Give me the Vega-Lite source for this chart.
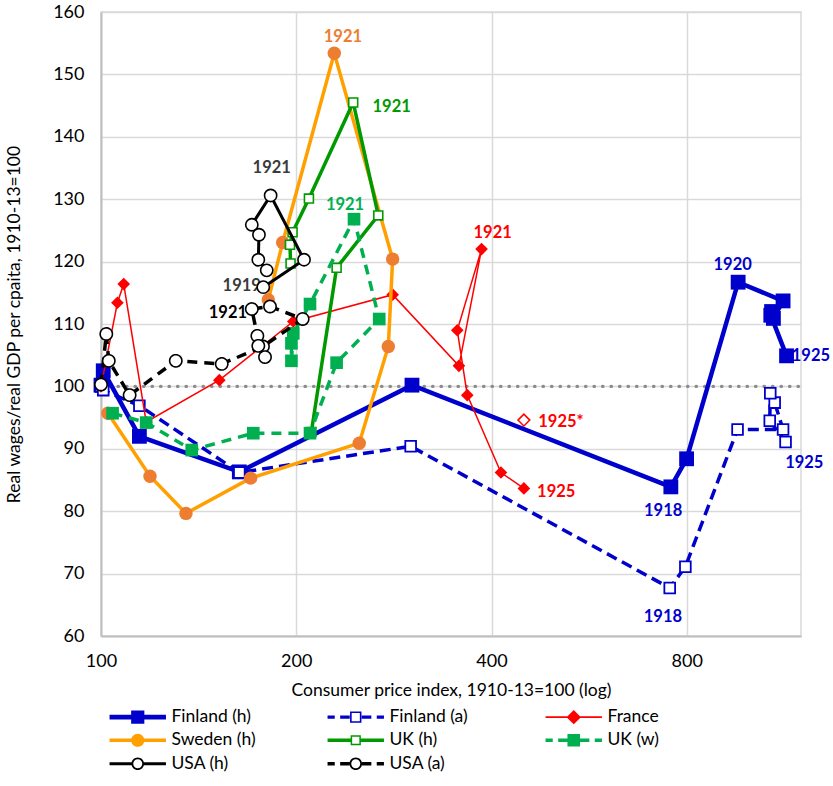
{
 "$schema": "https://vega.github.io/schema/vega-lite/v6.json",
 "width": 700, "height": 624,
 "autosize": {"type": "none"},
 "padding": {"left": 101, "top": 12, "right": 32, "bottom": 150},
 "background": "white",
 "config": {"view": {"stroke": "#D9D9D9", "strokeWidth": 1.5}, "font": "Lato"},
 "datasets": {
  "main": [
   {"series":"Finland (h)","year":1913,"cpi":100,"wage":100.2},
   {"series":"Finland (h)","year":1914,"cpi":100.8,"wage":102.5},
   {"series":"Finland (h)","year":1915,"cpi":114.6,"wage":92.0},
   {"series":"Finland (h)","year":1916,"cpi":163.4,"wage":86.3},
   {"series":"Finland (h)","year":1917,"cpi":301.6,"wage":100.2},
   {"series":"Finland (h)","year":1918,"cpi":756,"wage":83.9},
   {"series":"Finland (h)","year":1919,"cpi":799.5,"wage":88.4},
   {"series":"Finland (h)","year":1920,"cpi":960,"wage":116.7},
   {"series":"Finland (h)","year":1921,"cpi":1126,"wage":113.7},
   {"series":"Finland (h)","year":1922,"cpi":1088,"wage":110.9},
   {"series":"Finland (h)","year":1923,"cpi":1081,"wage":112.0},
   {"series":"Finland (h)","year":1924,"cpi":1078,"wage":111.4},
   {"series":"Finland (h)","year":1925,"cpi":1140,"wage":104.9},
   {"series":"Finland (a)","year":1913,"cpi":100,"wage":100.0},
   {"series":"Finland (a)","year":1914,"cpi":100.8,"wage":99.4},
   {"series":"Finland (a)","year":1915,"cpi":114.6,"wage":96.9},
   {"series":"Finland (a)","year":1916,"cpi":163.4,"wage":86.2},
   {"series":"Finland (a)","year":1917,"cpi":300.2,"wage":90.4},
   {"series":"Finland (a)","year":1918,"cpi":753,"wage":67.7},
   {"series":"Finland (a)","year":1919,"cpi":796,"wage":71.1},
   {"series":"Finland (a)","year":1920,"cpi":958,"wage":93.1},
   {"series":"Finland (a)","year":1921,"cpi":1126,"wage":93.1},
   {"series":"Finland (a)","year":1922,"cpi":1093,"wage":97.4},
   {"series":"Finland (a)","year":1923,"cpi":1076,"wage":98.9},
   {"series":"Finland (a)","year":1924,"cpi":1074,"wage":94.5},
   {"series":"Finland (a)","year":1925,"cpi":1136,"wage":91.1},
   {"series":"France","year":1913,"cpi":100,"wage":100},
   {"series":"France","year":1914,"cpi":106,"wage":113.4},
   {"series":"France","year":1915,"cpi":108.4,"wage":116.4},
   {"series":"France","year":1916,"cpi":117.4,"wage":94.3},
   {"series":"France","year":1917,"cpi":152.2,"wage":101.0},
   {"series":"France","year":1918,"cpi":197.9,"wage":110.4},
   {"series":"France","year":1919,"cpi":281.6,"wage":114.7},
   {"series":"France","year":1920,"cpi":356.3,"wage":103.3},
   {"series":"France","year":1921,"cpi":386.1,"wage":122.0},
   {"series":"France","year":1922,"cpi":354.2,"wage":109.0},
   {"series":"France","year":1923,"cpi":367,"wage":98.6},
   {"series":"France","year":1924,"cpi":413.6,"wage":86.2},
   {"series":"France","year":1925,"cpi":448.7,"wage":83.65},
   {"series":"France 1925*","year":1925,"cpi":448.7,"wage":94.6},
   {"series":"Sweden (h)","year":1914,"cpi":102.5,"wage":95.7},
   {"series":"Sweden (h)","year":1915,"cpi":119,"wage":85.6},
   {"series":"Sweden (h)","year":1916,"cpi":135.2,"wage":79.65},
   {"series":"Sweden (h)","year":1917,"cpi":170.1,"wage":85.3},
   {"series":"Sweden (h)","year":1918,"cpi":250.1,"wage":90.9},
   {"series":"Sweden (h)","year":1919,"cpi":277.3,"wage":106.4},
   {"series":"Sweden (h)","year":1920,"cpi":281.6,"wage":120.4},
   {"series":"Sweden (h)","year":1921,"cpi":228.9,"wage":153.4},
   {"series":"Sweden (h)","year":1922,"cpi":190.6,"wage":123.05},
   {"series":"Sweden (h)","year":1923,"cpi":181.1,"wage":113.9},
   {"series":"UK (h)","year":1918,"cpi":211,"wage":92.7},
   {"series":"UK (h)","year":1919,"cpi":230.8,"wage":119.0},
   {"series":"UK (h)","year":1920,"cpi":267.6,"wage":127.4},
   {"series":"UK (h)","year":1921,"cpi":244.8,"wage":145.5},
   {"series":"UK (h)","year":1922,"cpi":209.2,"wage":130.1},
   {"series":"UK (h)","year":1923,"cpi":197.4,"wage":124.7},
   {"series":"UK (h)","year":1924,"cpi":195.6,"wage":122.7},
   {"series":"UK (h)","year":1925,"cpi":196,"wage":119.7},
   {"series":"UK (w)","year":1914,"cpi":104.2,"wage":95.7},
   {"series":"UK (w)","year":1915,"cpi":117.4,"wage":94.2},
   {"series":"UK (w)","year":1916,"cpi":138,"wage":89.8},
   {"series":"UK (w)","year":1917,"cpi":171.7,"wage":92.5},
   {"series":"UK (w)","year":1918,"cpi":210,"wage":92.5},
   {"series":"UK (w)","year":1919,"cpi":230.8,"wage":103.8},
   {"series":"UK (w)","year":1920,"cpi":268.5,"wage":110.8},
   {"series":"UK (w)","year":1921,"cpi":245.5,"wage":126.8},
   {"series":"UK (w)","year":1922,"cpi":210,"wage":113.2},
   {"series":"UK (w)","year":1923,"cpi":197.9,"wage":108.5},
   {"series":"UK (w)","year":1924,"cpi":196.6,"wage":104.1},
   {"series":"UK (w)","year":1925,"cpi":196.6,"wage":106.9},
   {"series":"USA (h)","year":1919,"cpi":177.9,"wage":115.9},
   {"series":"USA (h)","year":1920,"cpi":205.6,"wage":120.3},
   {"series":"USA (h)","year":1921,"cpi":182.6,"wage":130.6},
   {"series":"USA (h)","year":1922,"cpi":170.8,"wage":125.9},
   {"series":"USA (h)","year":1923,"cpi":175.2,"wage":124.3},
   {"series":"USA (h)","year":1924,"cpi":174.8,"wage":120.3},
   {"series":"USA (h)","year":1925,"cpi":180.1,"wage":118.6},
   {"series":"USA (a)","year":1913,"cpi":100,"wage":100.3},
   {"series":"USA (a)","year":1914,"cpi":101.9,"wage":108.4},
   {"series":"USA (a)","year":1915,"cpi":102.8,"wage":104.1},
   {"series":"USA (a)","year":1916,"cpi":110.7,"wage":98.6},
   {"series":"USA (a)","year":1917,"cpi":130.4,"wage":104.1},
   {"series":"USA (a)","year":1918,"cpi":153.5,"wage":103.6},
   {"series":"USA (a)","year":1919,"cpi":177.7,"wage":106.4},
   {"series":"USA (a)","year":1920,"cpi":204.6,"wage":110.8},
   {"series":"USA (a)","year":1921,"cpi":182.2,"wage":112.8},
   {"series":"USA (a)","year":1922,"cpi":170.8,"wage":112.4},
   {"series":"USA (a)","year":1923,"cpi":174.2,"wage":108.1},
   {"series":"USA (a)","year":1924,"cpi":174.8,"wage":106.5},
   {"series":"USA (a)","year":1925,"cpi":179,"wage":104.7}
  ],
  "ref": [{"cpi":100,"wage":100},{"cpi":1200,"wage":100}],
  "labels": [
   {"label":"1921","series":"Sweden (h)","cpi":236.0,"wage":156.0},
   {"label":"1921","series":"UK (h)","cpi":280.6,"wage":144.8},
   {"label":"1921","series":"UK (w)","cpi":237.8,"wage":129.1},
   {"label":"1921","series":"USA (h)","cpi":183.3,"wage":135.0},
   {"label":"1919","series":"USA (h)","cpi":164.8,"wage":116.1},
   {"label":"1921","series":"USA (a)","cpi":156.9,"wage":111.8},
   {"label":"1921","series":"France","cpi":401.6,"wage":124.6},
   {"label":"1925","series":"France","cpi":503.3,"wage":83.1},
   {"label":"1925*","series":"France","cpi":511.7,"wage":94.3},
   {"label":"1920","series":"Finland (h)","cpi":941.4,"wage":119.5},
   {"label":"1918","series":"Finland (h)","cpi":735.6,"wage":80.1},
   {"label":"1925","series":"Finland (h)","cpi":1243,"wage":104.8},
   {"label":"1918","series":"Finland (a)","cpi":735,"wage":63.0},
   {"label":"1925","series":"Finland (a)","cpi":1214,"wage":87.8}
  ]
 },
 "data": {"name": "main"},
 "encoding": {
  "x": {"field": "cpi", "type": "quantitative",
   "scale": {"type": "log", "domain": [100, 1200], "nice": false},
   "axis": {"values": [100, 200, 400, 800], "format": "d", "labelFont": "Lato", "labelFontSize": 18, "labelColor": "black", "labelPadding": 16, "labelFlush": false, "ticks": false, "domainColor": "#BFBFBF", "domainWidth": 2, "grid": true, "gridColor": "#D9D9D9", "gridWidth": 1.5, "title": "Consumer price index, 1910-13=100 (log)", "titleFont": "Lato", "titleFontSize": 17.5, "titleFontWeight": "normal", "titleColor": "black", "titlePadding": 11}},
  "y": {"field": "wage", "type": "quantitative",
   "scale": {"domain": [60, 160], "nice": false, "zero": false},
   "axis": {"values": [60, 70, 80, 90, 100, 110, 120, 130, 140, 150, 160], "labelFont": "Lato", "labelFontSize": 18, "labelColor": "black", "labelPadding": 17, "ticks": false, "domainColor": "#BFBFBF", "domainWidth": 2, "grid": true, "gridColor": "#D9D9D9", "gridWidth": 1.5, "title": "Real wages/real GDP per cpaita,  1910-13=100", "titleFont": "Lato", "titleFontSize": 17.5, "titleFontWeight": "normal", "titleColor": "black", "titlePadding": 29}},
  "color": {"field": "series", "type": "nominal",
   "scale": {"domain": ["Finland (h)", "Finland (a)", "France", "Sweden (h)", "UK (h)", "UK (w)", "USA (h)", "USA (a)"],
             "range": ["#0000CC", "#0000CC", "#FF0000", "#FFA000", "#009900", "#00B050", "#000000", "#000000"]},
   "legend": {
    "title": null, "orient": "none", "legendX": 28, "legendY": 696, "columns": 3, "direction": "horizontal", "padding": 0, "gridAlign": "all",
    "values": ["Finland (h)", "Finland (a)", "France", "Sweden (h)", "UK (h)", "UK (w)", "USA (h)", "USA (a)"],
    "symbolSize": 144, "labelFont": "Lato", "labelFontSize": 17.5, "labelColor": "black", "labelOffset": 25,
    "columnPadding": 71, "rowPadding": 4.5,
    "encode": {"symbols": {"update": {
     "shape": {"signal": "datum.value==='Finland (h)'?'M-4.7,-0.38H4.7V0.38H-4.7ZM-1.1,-1.1H1.1V1.1H-1.1Z':datum.value==='Finland (a)'?'M-4.7,-0.28H-3.5V0.28H-4.7ZM-2.6,-0.28H-1V0.28H-2.6ZM1,-0.28H2.6V0.28H1ZM3.5,-0.28H4.7V0.28H3.5ZM-0.95,-0.95H0.95V0.95H-0.95ZM-0.68,-0.68V0.68H0.68V-0.68Z':datum.value==='France'?'M-4.7,-0.13H4.7V0.13H-4.7ZM0,-1.2L1.2,0L0,1.2L-1.2,0Z':datum.value==='Sweden (h)'?'M-4.7,-0.3H4.7V0.3H-4.7ZM-1.1,0A1.1,1.1,0,1,1,1.1,0A1.1,1.1,0,1,1,-1.1,0Z':datum.value==='UK (h)'?'M-4.7,-0.28H-0.85V0.28H-4.7ZM0.85,-0.28H4.7V0.28H0.85ZM-0.85,-0.85H0.85V0.85H-0.85ZM-0.6,-0.6V0.6H0.6V-0.6Z':datum.value==='UK (w)'?'M-4.7,-0.28H-3.5V0.28H-4.7ZM-2.6,-0.28H-1V0.28H-2.6ZM1,-0.28H2.6V0.28H1ZM3.5,-0.28H4.7V0.28H3.5ZM-1.05,-1.05H1.05V1.05H-1.05Z':datum.value==='USA (h)'?'M-4.7,-0.25H-1V0.25H-4.7ZM1,-0.25H4.7V0.25H1ZM-1.05,0A1.05,1.05,0,1,1,1.05,0A1.05,1.05,0,1,1,-1.05,0ZM-0.75,0A0.75,0.75,0,1,0,0.75,0A0.75,0.75,0,1,0,-0.75,0Z':'M-4.7,-0.28H-3.5V0.28H-4.7ZM-2.6,-0.28H-1.05V0.28H-2.6ZM1.05,-0.28H2.6V0.28H1.05ZM3.5,-0.28H4.7V0.28H3.5ZM-1.05,0A1.05,1.05,0,1,1,1.05,0A1.05,1.05,0,1,1,-1.05,0ZM-0.75,0A0.75,0.75,0,1,0,0.75,0A0.75,0.75,0,1,0,-0.75,0Z'"},
     "strokeWidth": {"value": 0},
     "strokeDash": {"value": [1, 0]},
     "opacity": {"value": 1}
    }}}
   }}
 },
 "layer": [
  {"data": {"name": "ref"}, "mark": {"type": "line", "strokeDash": [0.5, 8], "strokeCap": "round", "strokeWidth": 3.2}, "encoding": {"color": {"value": "#8C8C8C"}}},
  {"transform": [{"filter": "datum.series === 'Finland (h)'"}],
   "mark": {"type": "line", "strokeWidth": 4.5, "point": {"shape": "square", "size": 220, "filled": true, "opacity": 1}},
   "encoding": {"order": {"field": "year"}}},
  {"transform": [{"filter": "datum.series === 'Finland (a)'"}],
   "mark": {"type": "line", "strokeWidth": 3.5, "strokeDash": [11, 6], "point": {"shape": "square", "size": 115, "filled": false, "fill": "white", "strokeWidth": 1.8, "strokeDash": [1, 0], "opacity": 1}},
   "encoding": {"order": {"field": "year"}}},
  {"transform": [{"filter": "datum.series === 'France'"}],
   "mark": {"type": "line", "strokeWidth": 1.5, "point": {"shape": "diamond", "size": 160, "filled": true, "opacity": 1}},
   "encoding": {"order": {"field": "year"}}},
  {"transform": [{"filter": "datum.series === 'France 1925*'"}],
   "mark": {"type": "point", "shape": "diamond", "size": 140, "filled": false, "fill": "white", "stroke": "#FF0000", "strokeWidth": 1.5, "opacity": 1},
   "encoding": {"color": {"value": "#FF0000"}}},
  {"transform": [{"filter": "datum.series === 'Sweden (h)'"}],
   "mark": {"type": "line", "strokeWidth": 3.5, "point": {"shape": "circle", "size": 180, "filled": false, "fill": "#ED7D31", "strokeWidth": 0, "opacity": 1}},
   "encoding": {"order": {"field": "year"}}},
  {"transform": [{"filter": "datum.series === 'UK (h)'"}],
   "mark": {"type": "line", "strokeWidth": 3.5, "point": {"shape": "square", "size": 80, "filled": false, "fill": "white", "strokeWidth": 1.6, "opacity": 1}},
   "encoding": {"order": {"field": "year"}}},
  {"transform": [{"filter": "datum.series === 'UK (w)'"}],
   "mark": {"type": "line", "strokeWidth": 3.5, "strokeDash": [10, 7], "point": {"shape": "square", "size": 160, "filled": true, "opacity": 1}},
   "encoding": {"order": {"field": "year"}}},
  {"data": {"name": "labels"},
   "mark": {"type": "text", "font": "Lato", "fontSize": 16.5, "fontWeight": "bold", "align": "center", "baseline": "middle"},
   "encoding": {"text": {"field": "label"}, "color": {"value": "black"},
    "fill": {"field": "series", "type": "nominal", "legend": null,
     "scale": {"domain": ["Finland (h)", "Finland (a)", "France", "Sweden (h)", "UK (h)", "UK (w)", "USA (h)", "USA (a)"],
               "range": ["#0000CC", "#0000CC", "#FF0000", "#ED7D31", "#009900", "#00B050", "#3A3A3A", "#000000"]}}}},
  {"transform": [{"filter": "datum.series === 'USA (h)'"}],
   "mark": {"type": "line", "strokeWidth": 3, "point": {"shape": "circle", "size": 150, "filled": false, "fill": "white", "strokeWidth": 1.6, "opacity": 1}},
   "encoding": {"order": {"field": "year"}}},
  {"transform": [{"filter": "datum.series === 'USA (a)'"}],
   "mark": {"type": "line", "strokeWidth": 3.5, "strokeDash": [10, 7], "point": {"shape": "circle", "size": 150, "filled": false, "fill": "white", "strokeWidth": 1.6, "strokeDash": [1, 0], "opacity": 1}},
   "encoding": {"order": {"field": "year"}}}
 ]
}
